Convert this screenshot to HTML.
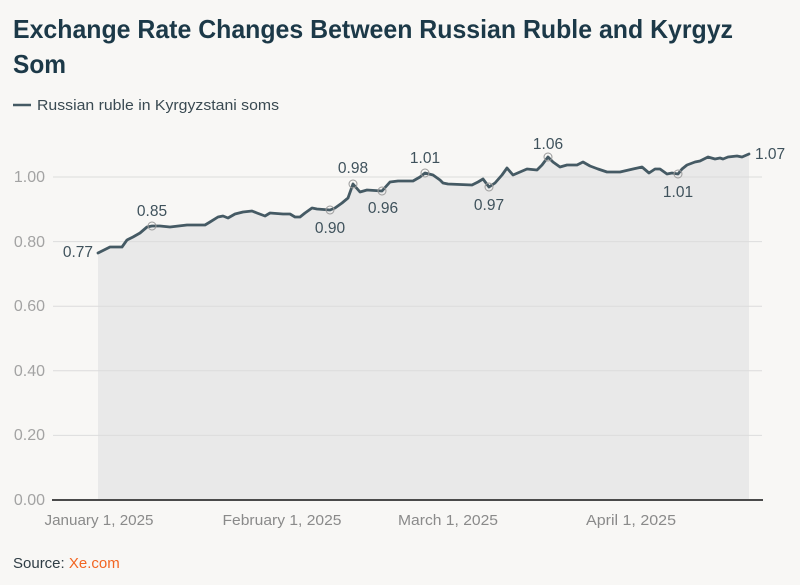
<!DOCTYPE html>
<html>
<head>
<meta charset="utf-8">
<style>
  html,body{margin:0;padding:0;background:#f8f7f5;}
  svg{display:block;}
  text{font-family:"Liberation Sans", sans-serif;}
</style>
</head>
<body>
<svg width="800" height="585" viewBox="0 0 800 585" xmlns="http://www.w3.org/2000/svg">
  <rect x="0" y="0" width="800" height="585" fill="#f8f7f5"/>
  <!-- Title -->
  <text x="13" y="38" font-size="26" font-weight="bold" fill="#1c3948" textLength="720" lengthAdjust="spacingAndGlyphs">Exchange Rate Changes Between Russian Ruble and Kyrgyz</text>
  <text x="13" y="73" font-size="26" font-weight="bold" fill="#1c3948" textLength="53" lengthAdjust="spacingAndGlyphs">Som</text>
  <!-- Legend -->
  <line x1="13" y1="105" x2="31" y2="105" stroke="#455a64" stroke-width="2.5"/>
  <text x="37" y="110" font-size="15" fill="#3a4a52" textLength="242" lengthAdjust="spacingAndGlyphs">Russian ruble in Kyrgyzstani soms</text>

  <!-- Area -->
  <polygon fill="#e9e9e9" points="98,500 98,253 110,247 122,247 127,240 133,237 140,233 147,227 152,226 160,226 170,227 187,225 205,225 210,222 218,217 223,216 228,218 235,214 243,212 252,211 257,213 265,216 270,213 283,214 290,214 295,217 300,217 305,213 312,208 317,209 330,210 335,208 342,203 348,198 353,184 360,192 367,190 382,191 390,182 398,181 413,181 420,177 425,173 433,175 440,180 443,183 448,184 472,185 478,182 483,179 489,187 495,183 502,175 507,168 513,175 520,172 527,169 537,170 542,165 548,157 553,162 560,167 567,165 577,165 583,162 590,166 598,169 607,172 620,172 633,169 642,167 649,173 655,169 660,169 667,174 672,173 678,174 682,169 687,165 695,162 700,161 708,157 715,159 720,158 723,159 728,157 737,156 742,157 749,154 749,500"/>

  <!-- Gridlines -->
  <g stroke="#dcdcdc" stroke-width="1">
    <line x1="53" y1="177" x2="762" y2="177"/>
    <line x1="53" y1="241.6" x2="762" y2="241.6"/>
    <line x1="53" y1="306.2" x2="762" y2="306.2"/>
    <line x1="53" y1="370.8" x2="762" y2="370.8"/>
    <line x1="53" y1="435.4" x2="762" y2="435.4"/>
  </g>
  <!-- Y labels -->
  <g font-size="16" fill="#a3a3a3" text-anchor="end">
    <text x="45" y="182">1.00</text>
    <text x="45" y="247">0.80</text>
    <text x="45" y="311">0.60</text>
    <text x="45" y="376">0.40</text>
    <text x="45" y="440">0.20</text>
    <text x="45" y="505">0.00</text>
  </g>

  <!-- Line -->
  <polyline fill="none" stroke="#455a64" stroke-width="2.8" stroke-linejoin="round" stroke-linecap="round" points="98,253 110,247 122,247 127,240 133,237 140,233 147,227 152,226 160,226 170,227 187,225 205,225 210,222 218,217 223,216 228,218 235,214 243,212 252,211 257,213 265,216 270,213 283,214 290,214 295,217 300,217 305,213 312,208 317,209 330,210 335,208 342,203 348,198 353,184 360,192 367,190 382,191 390,182 398,181 413,181 420,177 425,173 433,175 440,180 443,183 448,184 472,185 478,182 483,179 489,187 495,183 502,175 507,168 513,175 520,172 527,169 537,170 542,165 548,157 553,162 560,167 567,165 577,165 583,162 590,166 598,169 607,172 620,172 633,169 642,167 649,173 655,169 660,169 667,174 672,173 678,174 682,169 687,165 695,162 700,161 708,157 715,159 720,158 723,159 728,157 737,156 742,157 749,154"/>

  <!-- Markers -->
  <g fill="none" stroke="#9a9a9a" stroke-width="1">
    <circle cx="152" cy="226" r="4"/>
    <circle cx="330" cy="210" r="4"/>
    <circle cx="353" cy="184" r="4"/>
    <circle cx="382" cy="191" r="4"/>
    <circle cx="425" cy="173" r="4"/>
    <circle cx="489" cy="187" r="4"/>
    <circle cx="548" cy="157" r="4"/>
    <circle cx="678" cy="174" r="4"/>
  </g>

  <!-- Value labels -->
  <g font-size="15.5" fill="#3f525c" text-anchor="middle">
    <text x="152" y="216">0.85</text>
    <text x="330" y="233">0.90</text>
    <text x="353" y="173">0.98</text>
    <text x="383" y="213">0.96</text>
    <text x="425" y="163">1.01</text>
    <text x="489" y="210">0.97</text>
    <text x="548" y="149">1.06</text>
    <text x="678" y="197">1.01</text>
    <text x="93" y="257" text-anchor="end">0.77</text>
    <text x="755" y="159" text-anchor="start">1.07</text>
  </g>

  <!-- Baseline -->
  <line x1="52" y1="500" x2="763" y2="500" stroke="#4a4a4a" stroke-width="2"/>

  <!-- X labels -->
  <g font-size="15" fill="#8a8a8a" text-anchor="middle">
    <text x="99" y="525" textLength="109" lengthAdjust="spacingAndGlyphs">January 1, 2025</text>
    <text x="282" y="525" textLength="119" lengthAdjust="spacingAndGlyphs">February 1, 2025</text>
    <text x="448" y="525" textLength="100" lengthAdjust="spacingAndGlyphs">March 1, 2025</text>
    <text x="631" y="525" textLength="90" lengthAdjust="spacingAndGlyphs">April 1, 2025</text>
  </g>

  <!-- Source -->
  <text x="13" y="568" font-size="15" fill="#2f3d45">Source: <tspan fill="#f26522">Xe.com</tspan></text>
</svg>
</body>
</html>
